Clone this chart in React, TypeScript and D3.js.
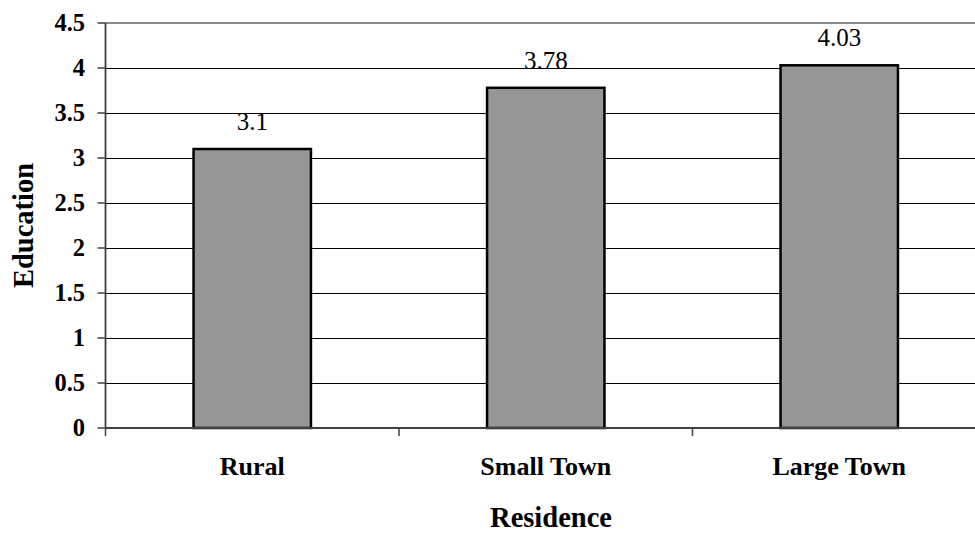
import React from "react";
import * as d3 from "d3";

// Mean education score by place of residence
const categories: string[] = ["Rural", "Small Town", "Large Town"];
const values: number[] = [3.1, 3.78, 4.03];
const yTicks: number[] = [0, 0.5, 1, 1.5, 2, 2.5, 3, 3.5, 4, 4.5];

const WIDTH = 975;
const HEIGHT = 533;
const FONT =
  '"Liberation Serif", Tinos, "Times New Roman", Times, "Noto Serif", "DejaVu Serif", FreeSerif, serif';
const textStyle: React.CSSProperties = { fontFamily: FONT };

export default function App() {
  const plotLeft = 105.5;
  const plotRight = 986;
  const plotTop = 23;
  const plotBottom = 428;

  const x = d3
    .scaleBand<string>()
    .domain(categories)
    .range([plotLeft, plotRight])
    .paddingInner(0.6)
    .paddingOuter(0.3);

  const y = d3.scaleLinear().domain([0, 4.5]).range([plotBottom, plotTop]);

  const step = x.step();
  const catTicks = d3.range(categories.length + 1).map((i) => plotLeft + i * step);

  return (
    <svg
      width={WIDTH}
      height={HEIGHT}
      style={{ position: "absolute", left: 0, top: 0, background: "#fff", fontFamily: FONT }}
    >
      {/* horizontal grid lines */}
      {yTicks
        .filter((t) => t > 0 && t < 4.5)
        .map((t) => (
          <line
            key={`g${t}`}
            x1={plotLeft}
            x2={plotRight}
            y1={Math.round(y(t)) + 0.5}
            y2={Math.round(y(t)) + 0.5}
            stroke="#000"
            strokeWidth={1}
          />
        ))}
      {/* top border */}
      <line
        x1={plotLeft}
        x2={plotRight}
        y1={y(4.5)}
        y2={y(4.5)}
        stroke="#8a8a8a"
        strokeWidth={2}
      />

      {/* bars */}
      {categories.map((c, i) => (
        <rect
          key={c}
          x={x(c)!}
          y={y(values[i])}
          width={x.bandwidth()}
          height={y(0) - y(values[i])}
          fill="#969696"
          stroke="#000"
          strokeWidth={2.5}
        />
      ))}

      {/* value labels */}
      {categories.map((c, i) => (
        <text
          key={`v${c}`}
          x={x(c)! + x.bandwidth() / 2}
          y={y(values[i]) - 19}
          textAnchor="middle"
          fontSize={25}
          fill="#000"
          style={textStyle}
        >
          {String(values[i])}
        </text>
      ))}

      {/* y axis */}
      <line
        x1={plotLeft}
        x2={plotLeft}
        y1={plotTop}
        y2={plotBottom}
        stroke="#404040"
        strokeWidth={1.8}
      />
      {yTicks.map((t) => (
        <g key={`t${t}`}>
          <line
            x1={plotLeft - 8}
            x2={plotLeft}
            y1={y(t)}
            y2={y(t)}
            stroke="#404040"
            strokeWidth={1.5}
          />
          <text
            x={85}
            y={y(t)}
            dy="0.34em"
            textAnchor="end"
            fontSize={24.5}
            fontWeight="bold"
            fill="#000"
            style={textStyle}
          >
            {String(t)}
          </text>
        </g>
      ))}

      {/* x axis */}
      <line
        x1={plotLeft}
        x2={plotRight}
        y1={plotBottom}
        y2={plotBottom}
        stroke="#404040"
        strokeWidth={1.8}
      />
      {catTicks.map((tx, i) => (
        <line
          key={`ct${i}`}
          x1={tx}
          x2={tx}
          y1={plotBottom}
          y2={plotBottom + 8}
          stroke="#404040"
          strokeWidth={1.5}
        />
      ))}
      {categories.map((c) => (
        <text
          key={`c${c}`}
          x={x(c)! + x.bandwidth() / 2}
          y={475}
          textAnchor="middle"
          fontSize={26}
          fontWeight="bold"
          fill="#000"
          style={textStyle}
        >
          {c}
        </text>
      ))}

      {/* axis titles */}
      <text
        x={551}
        y={527}
        textAnchor="middle"
        fontSize={28.5}
        fontWeight="bold"
        fill="#000"
        style={textStyle}
      >
        Residence
      </text>
      <text
        transform={`translate(33, ${(plotTop + plotBottom) / 2}) rotate(-90)`}
        textAnchor="middle"
        fontSize={28.5}
        fontWeight="bold"
        fill="#000"
        style={textStyle}
      >
        Education
      </text>
    </svg>
  );
}
